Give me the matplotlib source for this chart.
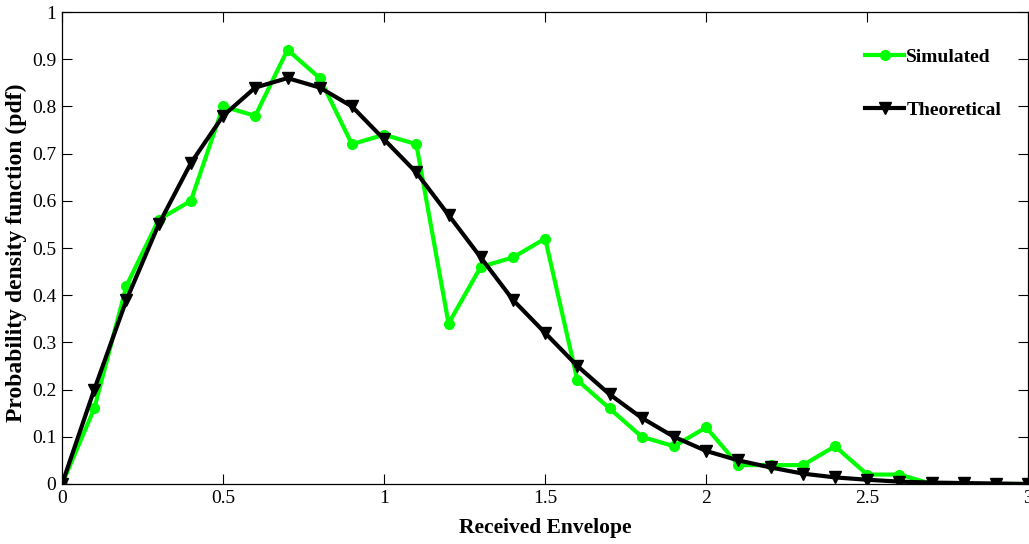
import matplotlib
matplotlib.use('Agg')
import matplotlib.pyplot as plt

# Envolvente recibida y funciones de densidad
x_vals = [0.0, 0.1, 0.2, 0.3, 0.4, 0.5, 0.6, 0.7, 0.8, 0.9, 1.0,
          1.1, 1.2, 1.3, 1.4, 1.5, 1.6, 1.7, 1.8, 1.9, 2.0,
          2.1, 2.2, 2.3, 2.4, 2.5, 2.6, 2.7, 2.8, 2.9, 3.0]
simulated = [0.0, 0.16, 0.42, 0.56, 0.60, 0.80, 0.78, 0.92, 0.86, 0.72, 0.74,
             0.72, 0.34, 0.46, 0.48, 0.52, 0.22, 0.16, 0.10, 0.08, 0.12,
             0.04, 0.04, 0.04, 0.08, 0.02, 0.02, 0.0, 0.0, 0.0, 0.0]
theoretical = [0.0, 0.20, 0.39, 0.55, 0.68, 0.78, 0.84, 0.86, 0.84, 0.80, 0.73,
               0.66, 0.57, 0.48, 0.39, 0.32, 0.25, 0.19, 0.14, 0.10, 0.07,
               0.05, 0.035, 0.022, 0.014, 0.009, 0.005, 0.003, 0.002, 0.001, 0.0]

x_ticks = [0, 0.5, 1, 1.5, 2, 2.5, 3]
x_tick_labels = ['0', '0.5', '1', '1.5', '2', '2.5', '3']
y_ticks = [0, 0.1, 0.2, 0.3, 0.4, 0.5, 0.6, 0.7, 0.8, 0.9, 1]
y_tick_labels = ['0', '0.1', '0.2', '0.3', '0.4', '0.5', '0.6', '0.7', '0.8', '0.9', '1']

plt.rcParams['font.family'] = ['Liberation Serif', 'DejaVu Serif']

fig = plt.figure(figsize=(10.29, 5.44), dpi=100)
ax = fig.add_axes([0.0603, 0.1103, 0.939, 0.8676])

ax.plot(x_vals, simulated, color='#00ff00', linewidth=3, marker='o',
        markersize=7, label='Simulated')
ax.plot(x_vals, theoretical, color='black', linewidth=3, marker='v',
        markersize=8, label='Theoretical')

ax.set_xlim(0, 3)
ax.set_ylim(0, 1)
ax.set_xticks(x_ticks)
ax.set_xticklabels(x_tick_labels)
ax.set_yticks(y_ticks)
ax.set_yticklabels(y_tick_labels)
ax.tick_params(direction='in', top=True, right=True, length=7, width=0.8,
               labelsize=14, pad=4)
for s in ax.spines.values():
    s.set_linewidth(0.9)

ax.set_xlabel('Received Envelope', fontsize=15.5, fontweight='bold', labelpad=8)
ax.set_ylabel('Probability density function (pdf)', fontsize=17,
              fontweight='bold')
ax.yaxis.set_label_coords(-0.036, 0.49)

leg = ax.legend(loc='upper right', bbox_to_anchor=(0.99, 0.96), frameon=False,
                labelspacing=1.8, handlelength=2.0, handletextpad=0.1,
                prop={'weight': 'bold', 'size': 14})

fig.savefig('out.png', dpi=100)
